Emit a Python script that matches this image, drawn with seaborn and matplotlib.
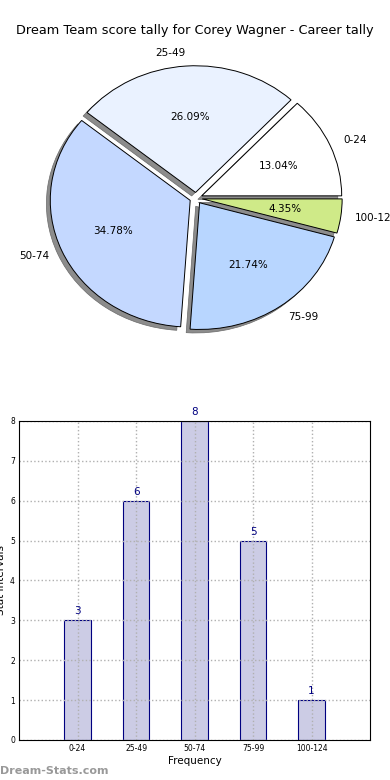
import matplotlib
matplotlib.use("Agg")
import matplotlib.pyplot as plt
import matplotlib.patches as mpatches
import seaborn as sns
import pandas as pd

categories = ["0-24", "25-49", "50-74", "75-99", "100-124"]
counts = [3, 6, 8, 5, 1]
pie_colors = ["#ffffff", "#eaf2ff", "#c4d8ff", "#b8d6ff", "#cfea88"]
title = "Dream Team score tally for Corey Wagner - Career tally"

sns.set_theme(style="white")
plt.rcParams['font.family'] = ['DejaVu Sans']
plt.rcParams['text.color'] = 'black'
plt.rcParams['axes.labelcolor'] = 'black'
plt.rcParams['xtick.color'] = 'black'
plt.rcParams['ytick.color'] = 'black'

fig = plt.figure(figsize=(3.9, 7.8), dpi=100)

# Pie chart
ax1 = fig.add_axes([0.054, 0.543, 0.897, 0.406])
wedges, texts, autotexts = ax1.pie(
    counts, labels=categories, colors=pie_colors, autopct="%.2f%%",
    startangle=0, explode=[0.045] * len(counts), shadow=True,
    wedgeprops=dict(edgecolor="black", linewidth=0.7),
    textprops=dict(fontsize=7.5, color="black"))
for p in ax1.patches:
    if isinstance(p, mpatches.Shadow):
        p.set_alpha(1)
        p.set_facecolor("#8c8c8c")
        p.set_edgecolor("#6a6a6a")
        p.set_linewidth(0.5)
ax1.set_aspect("auto")
ax1.set_xlim(-1.25, 1.25)
ax1.set_ylim(-1.25, 1.25)
fig.text(0.5, 0.961, title, ha="center", va="center", fontsize=9.3, color="black")

# Bar chart
ax2 = fig.add_axes([0.049, 0.0513, 0.9, 0.409])
df = pd.DataFrame({"interval": categories, "count": counts})
sns.barplot(data=df, x="interval", y="count", ax=ax2, color="#cccce5",
            edgecolor="#000080", linewidth=0.8, width=0.45, saturation=1)
ax2.set_xlim(-1, 5)
ax2.set_ylim(0, 8)
ax2.set_yticks(range(0, 9))
ax2.set_axisbelow("line")
ax2.grid(True, color="#b0b0b0", linestyle=":", linewidth=1)
for p in ax2.patches:
    p.set_zorder(1)
for i, v in enumerate(counts):
    ax2.text(i, v + 0.1, str(v), ha="center", va="bottom", color="#000080", fontsize=7.5)
ax2.tick_params(axis="both", labelsize=5.5, length=0, pad=3)
ax2.set_xlabel("Frequency", fontsize=7.5, labelpad=2)
ax2.set_ylabel("Stat Intervals", fontsize=7.5, labelpad=3)
for s in ax2.spines.values():
    s.set_color("black")
    s.set_linewidth(0.8)
    s.set_zorder(3)

fig.text(0.0, 0.012, "Dream-Stats.com", ha="left", va="center", fontsize=8,
         color="#999999", fontweight="bold")

fig.savefig("out.png", dpi=100)
